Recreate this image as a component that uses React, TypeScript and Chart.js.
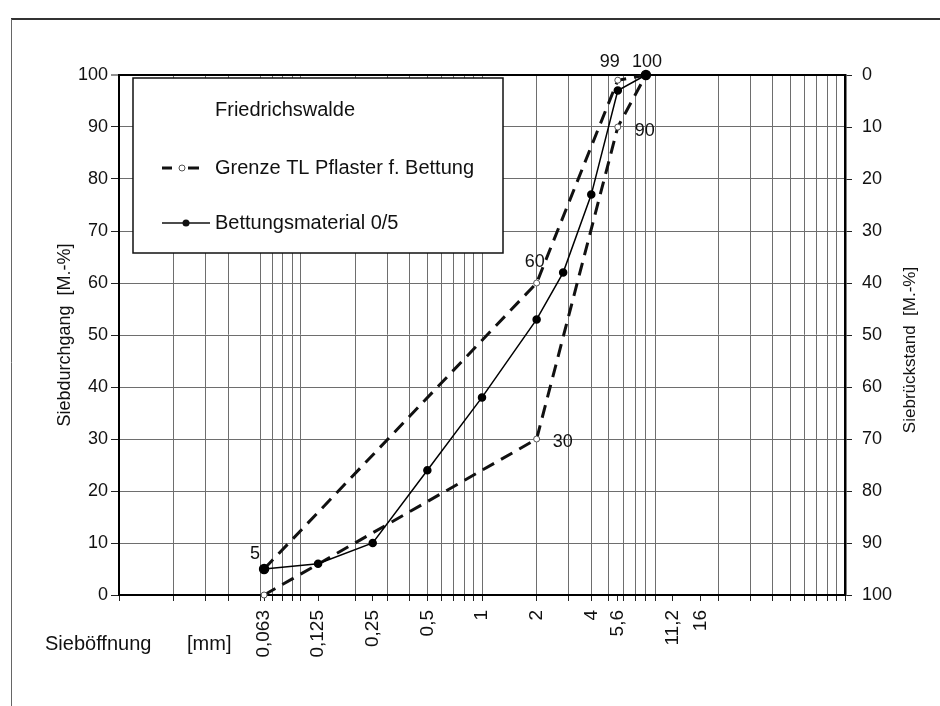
import { useEffect, useRef } from "react";
import { Chart, registerables } from "chart.js";
Chart.register(...registerables);

// ---------- data ----------
const sieveSizes = [0.063, 0.125, 0.25, 0.5, 1, 2, 2.8, 4, 5.6, 8];
const bettungValues = [5, 6, 10, 24, 38, 53, 62, 77, 97, 100];
const limitSizes = [0.063, 2, 5.6, 8];
const upperLimit = [5, 60, 99, 100];
const lowerLimit = [0, 30, 90, 100];

const xGridValues = [
  0.01, 0.02, 0.03, 0.04, 0.06, 0.07, 0.08, 0.09,
  0.1, 0.2, 0.3, 0.4, 0.5, 0.6, 0.7, 0.8, 0.9,
  1, 2, 3, 4, 5, 6, 7, 8, 9,
  20, 30, 40, 50, 60, 70, 80, 90, 100,
];
const xTickValues = [0.063, 0.125, 0.25, 0.5, 1, 2, 4, 5.6, 11.2, 16];
const xTickLabels = ["0,063", "0,125", "0,25", "0,5", "1", "2", "4", "5,6", "11,2", "16"];

const legendTitle = "Friedrichswalde";
const limitName = "Grenze TL Pflaster f. Bettung";
const materialName = "Bettungsmaterial 0/5";
const leftTitle = "Siebdurchgang  [M.-%]";
const rightTitle = "Siebrückstand  [M.-%]";
const xTitle = "Sieböffnung";
const xUnit = "[mm]";

// labels on limit points: [dataset, index]
const pointLabels: { ds: number; i: number; dx: number; dy: number }[] = [
  { ds: 0, i: 0, dx: -9, dy: -10 },
  { ds: 0, i: 1, dx: -2, dy: -16 },
  { ds: 0, i: 2, dx: -8, dy: -13 },
  { ds: 1, i: 3, dx: 1, dy: -8 },
  { ds: 1, i: 2, dx: 27, dy: 9 },
  { ds: 1, i: 1, dx: 26, dy: 8 },
];

const FONT = '"Liberation Sans", Arial, sans-serif';
const near = (a: number, b: number) => Math.abs(a - b) < 1e-9 * Math.max(1, b);
const allXTicks = Array.from(new Set([...xGridValues, ...xTickValues])).sort((a, b) => a - b);

const overlayPlugin = {
  id: "overlay",
  beforeDraw(chart: any) {
    const ctx = chart.ctx;
    ctx.save();
    ctx.strokeStyle = "#333";
    ctx.lineWidth = 2;
    ctx.beginPath();
    ctx.moveTo(11, 19);
    ctx.lineTo(940, 19);
    ctx.stroke();
    ctx.strokeStyle = "#666";
    ctx.lineWidth = 1;
    ctx.beginPath();
    ctx.moveTo(11.5, 19);
    ctx.lineTo(11.5, 706);
    ctx.stroke();
    ctx.restore();
  },
  afterDraw(chart: any) {
    const ctx = chart.ctx;
    const ca = chart.chartArea;
    ctx.save();
    // legend box
    const bx = ca.left + 14, by = ca.top + 3, bw = 370, bh = 175;
    ctx.fillStyle = "#fff";
    ctx.fillRect(bx, by, bw, bh);
    ctx.strokeStyle = "#111";
    ctx.lineWidth = 1.5;
    ctx.strokeRect(bx, by, bw, bh);
    ctx.fillStyle = "#111";
    ctx.font = `20px ${FONT}`;
    ctx.textAlign = "left";
    ctx.textBaseline = "alphabetic";
    ctx.fillText(legendTitle, bx + 82, by + 38);
    ctx.fillText(limitName, bx + 82, by + 96);
    ctx.fillText(materialName, bx + 82, by + 151);
    // limit symbol
    const sy = by + 90;
    ctx.strokeStyle = "#111";
    ctx.lineWidth = 3;
    ctx.beginPath();
    ctx.moveTo(bx + 29, sy);
    ctx.lineTo(bx + 39, sy);
    ctx.moveTo(bx + 55, sy);
    ctx.lineTo(bx + 66, sy);
    ctx.stroke();
    ctx.lineWidth = 1;
    ctx.strokeStyle = "#555";
    ctx.fillStyle = "#fff";
    ctx.beginPath();
    ctx.arc(bx + 49, sy, 3, 0, Math.PI * 2);
    ctx.fill();
    ctx.stroke();
    // material symbol
    const my = by + 145;
    ctx.strokeStyle = "#111";
    ctx.lineWidth = 1.5;
    ctx.beginPath();
    ctx.moveTo(bx + 29, my);
    ctx.lineTo(bx + 77, my);
    ctx.stroke();
    ctx.fillStyle = "#111";
    ctx.beginPath();
    ctx.arc(bx + 53, my, 3.5, 0, Math.PI * 2);
    ctx.fill();

    // point labels
    ctx.font = `18px ${FONT}`;
    ctx.textAlign = "center";
    ctx.fillStyle = "#111";
    const dsData = [upperLimit, lowerLimit];
    for (const pl of pointLabels) {
      const el = chart.getDatasetMeta(pl.ds).data[pl.i];
      if (!el) continue;
      ctx.fillText(String(dsData[pl.ds][pl.i]), el.x + pl.dx, el.y + pl.dy);
    }

    // axis titles
    ctx.textBaseline = "middle";
    ctx.save();
    ctx.translate(65, (ca.top + ca.bottom) / 2);
    ctx.rotate(-Math.PI / 2);
    ctx.font = `18px ${FONT}`;
    ctx.fillText(leftTitle, 0, 0);
    ctx.restore();
    ctx.save();
    ctx.translate(910, (ca.top + ca.bottom) / 2 + 15);
    ctx.rotate(-Math.PI / 2);
    ctx.font = `17px ${FONT}`;
    ctx.fillText(rightTitle, 0, 0);
    ctx.restore();
    ctx.textAlign = "left";
    ctx.textBaseline = "alphabetic";
    ctx.font = `20px ${FONT}`;
    ctx.fillText(xTitle, 45, 650);
    ctx.fillText(xUnit, 187, 650);
    ctx.restore();
  },
};

export default function App() {
  const ref = useRef<HTMLCanvasElement>(null);
  useEffect(() => {
    const limitStyle = {
      borderColor: "#111",
      borderWidth: 3,
      borderDash: [13, 8],
      pointRadius: 3,
      pointBackgroundColor: "#fff",
      pointBorderColor: "#555",
      pointBorderWidth: 1,
      tension: 0,
      fill: false,
      clip: false as any,
    };
    const chart = new Chart(ref.current!, {
      type: "line",
      data: {
        datasets: [
          {
            label: limitName,
            data: limitSizes.map((x, i) => ({ x, y: upperLimit[i] })),
            ...limitStyle,
            order: 2,
          },
          {
            label: limitName,
            data: limitSizes.map((x, i) => ({ x, y: lowerLimit[i] })),
            ...limitStyle,
            order: 3,
          },
          {
            label: materialName,
            data: sieveSizes.map((x, i) => ({ x, y: bettungValues[i] })),
            borderColor: "#000",
            borderWidth: 1.5,
            pointRadius: (c: any) => (c.dataIndex === 0 || c.dataIndex === sieveSizes.length - 1 ? 4.5 : 3.5),
            pointBackgroundColor: "#000",
            pointBorderColor: "#000",
            tension: 0,
            fill: false,
            clip: false as any,
            order: 0,
          },
        ],
      },
      options: {
        animation: false,
        responsive: false,
        devicePixelRatio: 1,
        layout: { padding: { top: 75, left: 0, right: 0, bottom: 0 } },
        plugins: { legend: { display: false }, tooltip: { enabled: false } },
        scales: {
          x: {
            type: "logarithmic",
            position: "bottom",
            min: 0.01,
            max: 100,
            afterBuildTicks: (scale: any) => {
              scale.ticks = allXTicks.map((v) => ({ value: v }));
            },
            afterFit: (scale: any) => {
              scale.height = 111;
            },
            ticks: {
              autoSkip: false,
              minRotation: 90,
              maxRotation: 90,
              padding: 9,
              color: "#111",
              font: { family: FONT, size: 19 },
              callback: (v: any) => {
                const idx = xTickValues.findIndex((t) => near(t, Number(v)));
                return idx >= 0 ? xTickLabels[idx] : "";
              },
            },
            grid: {
              color: (c: any) =>
                c.tick && xGridValues.some((g) => near(g, c.tick.value)) ? "#6e6e6e" : "rgba(0,0,0,0)",
              lineWidth: 1,
              tickColor: "#222",
              tickLength: 6,
              tickWidth: 1,
            },
            border: { color: "#000", width: 2 },
          },
          y: {
            type: "linear",
            position: "left",
            min: 0,
            max: 100,
            afterFit: (scale: any) => {
              scale.width = 119;
            },
            ticks: {
              stepSize: 10,
              padding: 3,
              color: "#111",
              font: { family: FONT, size: 18 },
            },
            grid: {
              color: (c: any) => (c.tick && c.tick.value === 100 ? "#000" : "#6e6e6e"),
              lineWidth: (c: any) => (c.tick && c.tick.value === 100 ? 2 : 1),
              tickColor: "#222",
              tickLength: 8,
              tickWidth: 1,
            },
            border: { color: "#000", width: 2 },
          },
          y2: {
            type: "linear",
            position: "right",
            min: 0,
            max: 100,
            reverse: true,
            afterFit: (scale: any) => {
              scale.width = 95;
            },
            ticks: {
              stepSize: 10,
              padding: 10,
              color: "#111",
              font: { family: FONT, size: 18 },
            },
            grid: {
              drawOnChartArea: false,
              tickColor: "#222",
              tickLength: 7,
              tickWidth: 1,
            },
            border: { color: "#000", width: 2.5 },
          },
        },
      },
      plugins: [overlayPlugin],
    } as any);
    return () => chart.destroy();
  }, []);
  return (
    <div style={{ position: "absolute", left: 0, top: 0, width: 940, height: 706, background: "#fff" }}>
      <canvas ref={ref} width={940} height={706} style={{ display: "block", width: 940, height: 706 }} />
    </div>
  );
}
